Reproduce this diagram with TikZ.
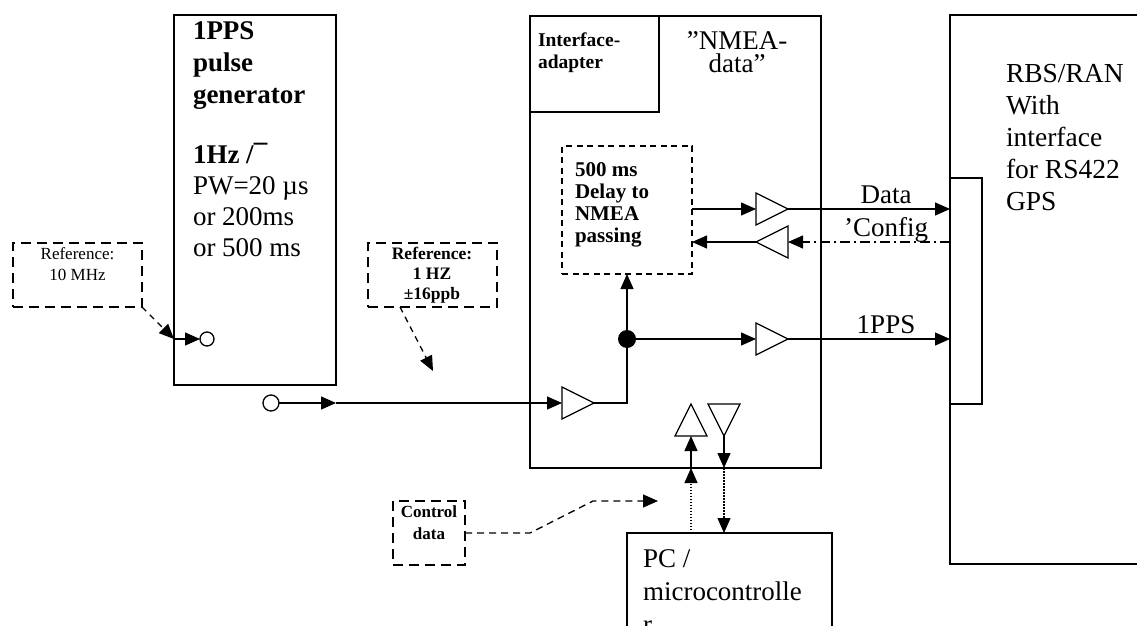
\documentclass[tikz,border=0pt]{standalone}
\usepackage{fontspec}
\setmainfont{Liberation Serif}
\usetikzlibrary{arrows.meta,shapes.geometric,calc}
\begin{document}
\begin{tikzpicture}[x=1pt,y=-1pt,
  box/.style={draw,line width=1.6pt,inner sep=0pt,outer sep=0pt,anchor=north west},
  dbox/.style={box,line width=1.4pt,dash pattern=on 10pt off 6pt},
  fdbox/.style={box,line width=1.3pt,dash pattern=on 6pt off 4.5pt},
  conn/.style={line width=1.3pt},
  tip/.style={-{Triangle[length=15pt,width=13pt]}},
  amp/.style={draw,line width=1.3pt,isosceles triangle,isosceles triangle stretches,
    minimum width=32pt,minimum height=32pt,inner sep=0pt,outer sep=0pt,anchor=lower side},
  port/.style={draw,circle,line width=1.3pt,inner sep=0pt,outer sep=0pt},
  txt/.style={inner sep=0pt,outer sep=0pt},
  big/.style={txt,font=\fontsize{27}{31}\selectfont},
  bigb/.style={txt,font=\fontsize{27}{32}\selectfont\bfseries},
  smalln/.style={txt,font=\fontsize{17}{21}\selectfont},
]
\useasboundingbox (0,0) rectangle (1137,626);
\clip (0,0) rectangle (1137,626);
\fill[white] (0,0) rectangle (1137,626);

% ---- boxes
\node[box,minimum width=162pt,minimum height=370pt] (gen) at (174,15) {};
\node[dbox,minimum width=129pt,minimum height=64pt] (ref10) at (13,243) {};
\node[dbox,minimum width=129pt,minimum height=64pt] (ref1) at (368,243) {};
\node[box,minimum width=291pt,minimum height=452pt] (iface) at (530,16) {};
\node[box,minimum width=129pt,minimum height=96pt] (adapter) at (530,16) {};
\node[fdbox,minimum width=130pt,minimum height=128pt] (delay) at (562,146) {};
\node[box,minimum width=230pt,minimum height=549pt] (rbs) at (950,15) {};
\node[box,line width=1.4pt,minimum width=32pt,minimum height=226pt] (rsif) at (950,178) {};
\node[box,minimum width=205pt,minimum height=130pt] (pc) at (627,533) {};
\node[dbox,minimum width=72pt,minimum height=64pt] (ctrl) at (393,501) {};

% ---- texts (anchor base = baseline of the last line)
\node[bigb,anchor=base west,align=left] (gentitle) at (193,103) {1PPS\\pulse\\generator};
\node[big,anchor=base west,align=left] (genspec) at (193,256) {\textbf{1Hz /¯}\\PW=20 µs\\or 200ms\\or 500 ms};
\node[smalln,anchor=base,align=center] (ref10t) at (77.5,280) {Reference:\\10 MHz};
\node[txt,anchor=base,align=center,font=\fontsize{17.5}{20}\selectfont\bfseries] (ref1t) at (432,299) {Reference:\\1 HZ\\±16ppb};
\node[txt,anchor=base west,align=left,font=\fontsize{19.5}{21}\selectfont\bfseries] (adaptert) at (538,68) {Interface-\\adapter};
\node[txt,font=\fontsize{27}{23}\selectfont,anchor=base,align=center] (nmeat) at (737,72) {”NMEA-\\data”};
\node[txt,font=\fontsize{21}{22}\selectfont\bfseries,anchor=base west,align=left] (delayt) at (575,242) {500 ms\\Delay to\\NMEA\\passing};
\node[txt,anchor=base west,align=left,font=\fontsize{27.5}{32}\selectfont] (rbst) at (1006,210) {RBS/RAN\\With\\interface\\for RS422\\GPS};
\node[txt,anchor=base west,align=left,font=\fontsize{27}{33}\selectfont] (pct) at (643,633) {PC /\\microcontrolle\\r};
\node[txt,anchor=base,align=center,font=\fontsize{17}{22}\selectfont\bfseries] (ctrlt) at (429,539) {Control\\data};
\node[big,anchor=base] (datal) at (886,203) {Data};
\node[big,anchor=base] (cfgl) at (886,236) {’Config};
\node[big,anchor=base] (ppsl) at (886,333) {1PPS};

% ---- ports and amplifiers
\node[port,minimum size=14pt] (c1) at (207,339) {};
\node[port,minimum size=16pt] (c2) at (271,403) {};
\node[amp] (tin) at (562,403) {};
\node[amp] (tdata) at (756,209) {};
\node[amp,shape border rotate=180] (tcfg) at (788,242) {};
\node[amp] (tpps) at (756,339) {};
\node[amp,shape border rotate=90] (tup) at (691,436) {};
\node[amp,shape border rotate=270] (tdn) at (724,404) {};
\node[circle,fill,inner sep=0pt,minimum size=18pt] (dot) at (627,339) {};

% ---- helper coordinates
\coordinate (gin) at (gen.west |- c1);
\coordinate (gout) at (gen.east |- c2);
\coordinate (ref1a) at (400,307);
\coordinate (ref1b) at (433,371);
\coordinate (bend) at (627,403);
\coordinate (upb) at (691,468);
\coordinate (dnb) at (724,468);
\coordinate (cc1) at (530,533);
\coordinate (cc2) at (593,501);
\coordinate (cc3) at (658,501);

% ---- connectors
\draw[conn,tip,dash pattern=on 6pt off 5pt] (ref10.south east) -- (gin);
\draw[conn,tip] (gin) -- (c1.west);
\draw[conn,tip] (c2.east) -- (gout);
\draw[conn,tip] (gout) -- (tin.lower side);
\draw[conn,tip,dash pattern=on 6pt off 5pt] (ref1a) -- (ref1b);
\draw[conn] (tin.apex) -- (bend) -- (dot.center);
\draw[conn,tip] (dot.center) -- (delay.south);
\draw[conn,tip] (dot.center) -- (tpps.lower side);
\draw[conn,tip] (tpps.apex) -- (tpps.apex -| rbs.west);
\draw[conn,tip] (delay.east |- tdata.lower side) -- (tdata.lower side);
\draw[conn,tip] (tdata.apex) -- (tdata.apex -| rbs.west);
\draw[conn,tip,dash pattern=on 10pt off 4pt on 2pt off 4pt] (tcfg.lower side -| rbs.west) -- (tcfg.lower side);
\draw[conn,tip] (tcfg.apex) -- (tcfg.apex -| delay.east);
\draw[conn,tip,dash pattern=on 1.5pt off 1.5pt] (pc.north -| tup.lower side) -- (upb);
\draw[conn,tip] (upb) -- (tup.lower side);
\draw[conn,tip] (tdn.apex) -- (dnb);
\draw[conn,tip,dash pattern=on 1.5pt off 1.5pt] (dnb) -- (pc.north -| dnb);
\draw[conn,tip,dash pattern=on 7pt off 5pt] (ctrl.east) -- (cc1) -- (cc2) -- (cc3);
\end{tikzpicture}
\end{document}
